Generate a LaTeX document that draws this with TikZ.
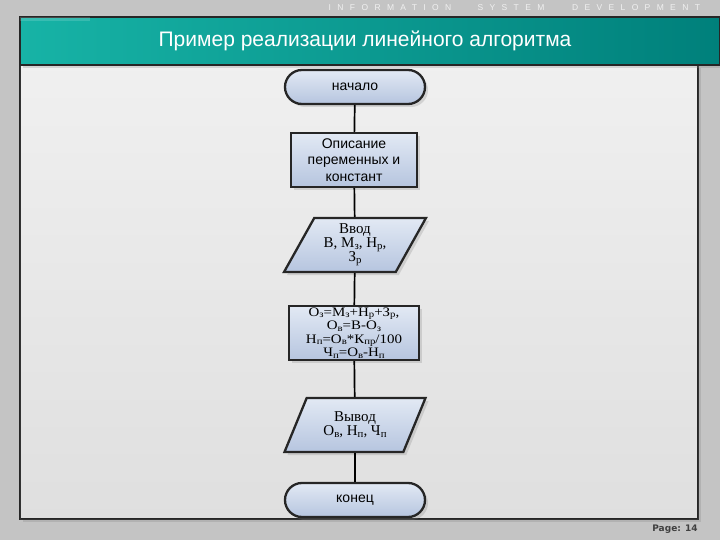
\documentclass[tikz,border=0pt]{standalone}
\usepackage{fontspec}
\setmainfont{Liberation Serif}
\newfontfamily\arialfont{Liberation Sans}
\newfontfamily\widefont[FakeStretch=1.15]{Liberation Serif}
\newfontfamily\spacedfont[LetterSpace=75]{Liberation Sans}
\newfontfamily\pagefont{DejaVu Sans}
\usetikzlibrary{shapes.geometric,shadows}
\definecolor{slidegray}{HTML}{C4C4C4}
\definecolor{tealdark}{HTML}{00807B}
\definecolor{teallight}{HTML}{17B3A6}
\definecolor{boxtop}{HTML}{E2E9F4}
\definecolor{boxbottom}{HTML}{B6C5DF}
\newcommand{\ix}[1]{\raisebox{-0.25ex}{\scalebox{0.72}{#1}}}
\begin{document}
\begin{tikzpicture}[x=1pt, y=-1pt,
    shade/.style = {top color=boxtop, bottom color=boxbottom, draw=black!85, line width=2.3pt,
                    drop shadow={opacity=0.25, shadow xshift=3pt, shadow yshift=-3pt}},
    terminal/.style = {shade, rectangle, rounded corners=17pt, minimum width=140pt, minimum height=34pt,
                       font=\arialfont\fontsize{14}{16}\selectfont},
    process/.style = {shade, rectangle, minimum width=126pt, minimum height=54pt, align=center, inner sep=1pt},
    io/.style = {shade, trapezium, trapezium left angle=61, trapezium right angle=119, trapezium stretches=true,
                 minimum width=142pt, minimum height=54pt, align=center, inner sep=0pt,
                 font=\fontsize{15}{14}\selectfont},
    line/.style = {draw, black, line width=1.7pt}
]
    % slide background
    \fill[slidegray] (0,0) rectangle (720,540);
    \useasboundingbox (0,0) rectangle (720,540);
    \shade[top color=gray!12, bottom color=gray!25] (20,65) rectangle (698,519);
    \draw[gray!40!black, line width=1pt] (20,65) -- (20,519) -- (698,519) -- (698,65);
    \shade[left color=teallight, right color=tealdark] (20,17) rectangle (720,65);
    \fill[white, opacity=0.15] (20,17) rectangle (90,21);

    % header and footer text
    \node[white!88!gray, font=\spacedfont\fontsize{8.5}{9}\selectfont] (hdrinfo) at (390,8) {INFORMATION};
    \node[white!88!gray, font=\spacedfont\fontsize{8.5}{9}\selectfont] (hdrsys) at (511,8) {SYSTEM};
    \node[white!88!gray, font=\spacedfont\fontsize{8.5}{9}\selectfont] (hdrdev) at (636,8) {DEVELOPMENT};
    \node[white, font=\arialfont\fontsize{21}{22}\selectfont] (title) at (365,41) {Пример реализации линейного алгоритма};
    \node[black!75, font=\pagefont\bfseries\fontsize{9}{10}\selectfont] (page) at (675,529) {Page: 14};

    % Nodes
    \node [terminal] (start) at (355,87) {начало};
    \node [process, font=\arialfont\fontsize{14}{16.5}\selectfont] (decl) at (354,160) {Описание\\переменных и\\констант};
    \node [io] (input) at (355,245) {Ввод\\В, М\ix{з}, Н\ix{р},\\З\ix{р}};
    \node [process, minimum width=130pt, font=\widefont\fontsize{13}{13.4}\selectfont] (calc) at (354,333)
        {О\ix{з}=М\ix{з}+Н\ix{р}+З\ix{р},\\О\ix{в}=В-О\ix{з}\\Н\ix{п}=О\ix{в}*К\ix{пр}/100\\Ч\ix{п}=О\ix{в}-Н\ix{п}};
    \node [io] (output) at (355,425) {Вывод\\О\ix{в}, Н\ix{п}, Ч\ix{п}};
    \node [terminal] (stop) at (355,500) {конец};

    % Edges
    \path [line] (start) -- (decl);
    \path [line] (decl) -- (input);
    \path [line] (input) -- (calc);
    \path [line] (calc) -- (output);
    \path [line] (output) -- (stop);

\end{tikzpicture}
\end{document}
